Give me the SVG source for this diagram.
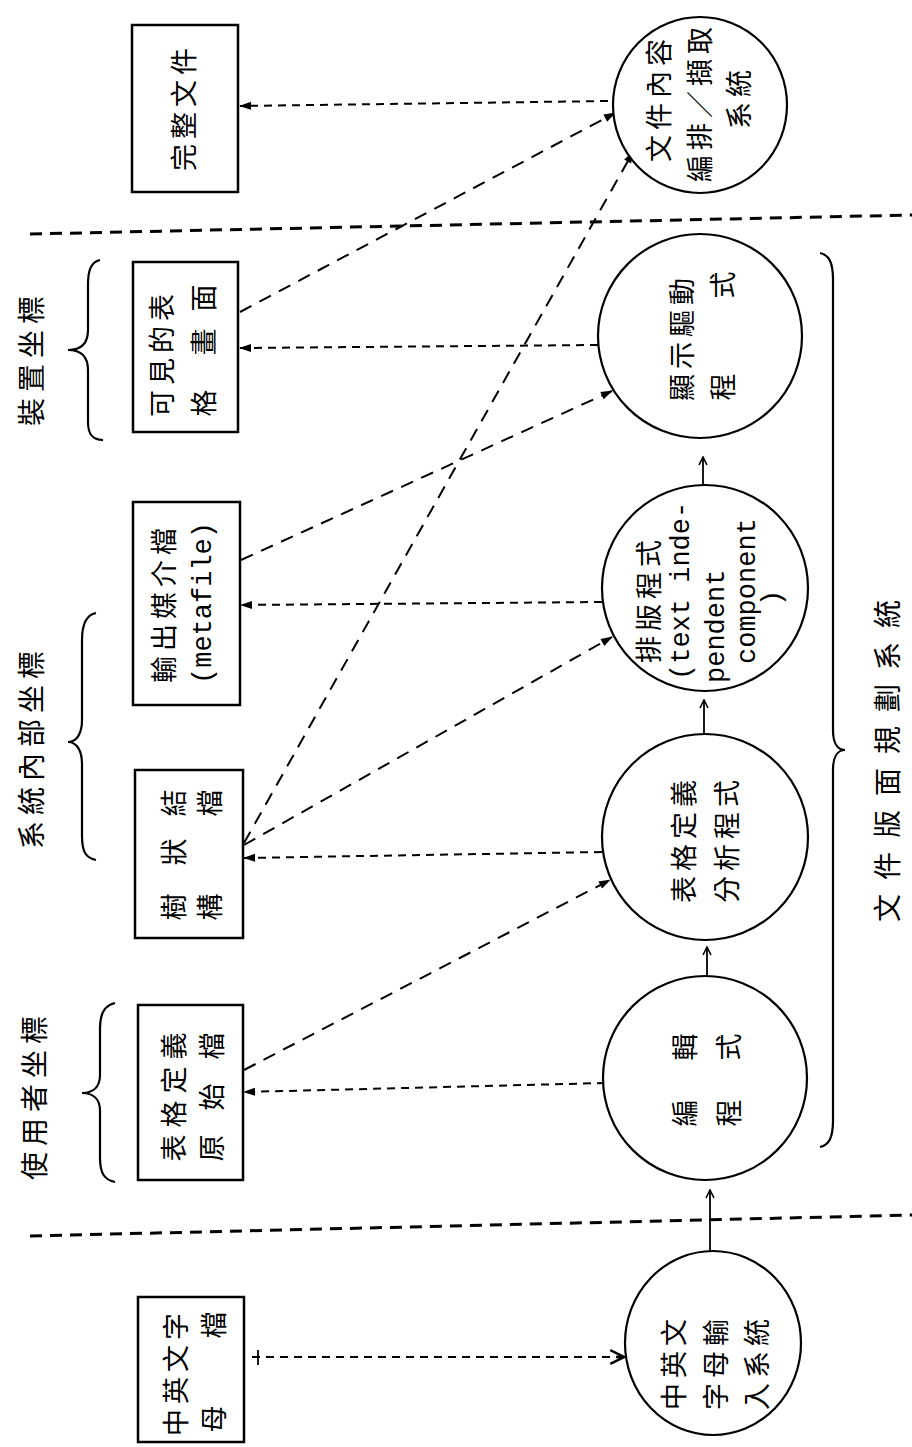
<svg xmlns="http://www.w3.org/2000/svg" width="912" height="1447" viewBox="0 0 912 1447">
<defs>
<style>
.box{fill:#fff;stroke:#000;stroke-width:2.5}
.node{fill:#fff;stroke:#000;stroke-width:2.2}
.cjk{font-family:"Noto Sans CJK TC","Noto Sans CJK SC",sans-serif;font-size:27px;fill:#000;text-anchor:middle;dominant-baseline:central;letter-spacing:5px}
.c1{letter-spacing:0}
.lbl{font-family:"Noto Sans CJK TC","Noto Sans CJK SC",sans-serif;font-size:28px;fill:#000;text-anchor:middle;dominant-baseline:central;letter-spacing:6px}
.mono{font-family:"Liberation Mono",monospace;font-size:27px;fill:#000;dominant-baseline:central}
.sep{fill:none;stroke:#000;stroke-width:3;stroke-dasharray:12 8}
.dash{fill:none;stroke:#000;stroke-width:2;stroke-dasharray:8 6}
.ddiag{fill:none;stroke:#000;stroke-width:2;stroke-dasharray:13 9}
.solid{fill:none;stroke:#000;stroke-width:1.8}
.brace{fill:none;stroke:#000;stroke-width:2.2}
</style>
<marker id="tri" viewBox="0 0 12 10" refX="11" refY="5" markerWidth="14" markerHeight="10" markerUnits="userSpaceOnUse" orient="auto">
<path d="M0,1 L12,5 L0,9 z" fill="#000" stroke="none"/>
</marker>
<marker id="open" viewBox="0 0 10 10" refX="9" refY="5" markerWidth="10" markerHeight="10" markerUnits="userSpaceOnUse" orient="auto">
<path d="M1,1 L9,5 L1,9" fill="none" stroke="#000" stroke-width="1.6"/>
</marker>
<marker id="fork" viewBox="0 0 14 14" refX="13" refY="7" markerWidth="16" markerHeight="16" markerUnits="userSpaceOnUse" orient="auto">
<path d="M1,1 L13,7 L1,13 M6,7 L13,7" fill="none" stroke="#000" stroke-width="2.2"/>
</marker>
</defs>
<rect x="0" y="0" width="912" height="1447" fill="#fff"/>

<g id="separators">
<path class="sep" d="M30,234 L912,215"/>
<path class="sep" d="M30,1236 L912,1215"/>
</g>

<g id="connectors">
<path class="dash" d="M608,101 L240,106" marker-end="url(#tri)"/>
<path class="dash" d="M598,345 L240,348" marker-end="url(#tri)"/>
<path class="dash" d="M602,602 L241,605" marker-end="url(#tri)"/>
<path class="dash" d="M602,852 L244,858" marker-end="url(#tri)"/>
<path class="dash" d="M605,1083 L244,1092" marker-end="url(#tri)"/>
<path class="ddiag" d="M240,312 L615,113" marker-end="url(#tri)"/>
<path class="ddiag" d="M241,560 L612,391" marker-end="url(#tri)"/>
<path class="ddiag" d="M244,845 L612,637" marker-end="url(#tri)"/>
<path class="ddiag" d="M244,843 L633,152" marker-end="url(#tri)"/>
<path class="ddiag" d="M244,1070 L610,880" marker-end="url(#tri)"/>
<path class="solid" d="M703,485 L703,457" marker-end="url(#open)"/>
<path class="solid" d="M704,733 L704,700" marker-end="url(#open)"/>
<path class="solid" d="M707,975 L707,947" marker-end="url(#open)"/>
<path class="solid" d="M710,1251 L710,1190" marker-end="url(#open)"/>
<path class="dash" d="M252,1357 L624,1357" marker-end="url(#fork)"/>
<path class="solid" d="M258,1350 L258,1365"/>
</g>

<g id="n-complete">
<rect class="box" x="132" y="25" width="106" height="167"/>
<text class="cjk" transform="translate(182,107) rotate(-90)">完整文件</text>
</g>

<g id="n-screen">
<rect class="box" x="133" y="262" width="105" height="170"/>
<text class="cjk" transform="translate(160,353) rotate(-90)">可見的表</text>
<text class="cjk c1" transform="translate(202,403) rotate(-90)">格</text>
<text class="cjk c1" transform="translate(202,342) rotate(-90)">畫</text>
<text class="cjk c1" transform="translate(202,298) rotate(-90)">面</text>
</g>

<g id="n-metafile">
<rect class="box" x="133" y="502" width="107" height="203"/>
<text class="cjk" transform="translate(162,603) rotate(-90)">輸出媒介檔</text>
<text class="mono" text-anchor="middle" transform="translate(204,603) rotate(-90)">(metafile)</text>
</g>

<g id="n-tree">
<rect class="box" x="135" y="770" width="108" height="168"/>
<text class="cjk c1" transform="translate(172,907) rotate(-90)">樹</text>
<text class="cjk c1" transform="translate(172,852) rotate(-90)">狀</text>
<text class="cjk c1" transform="translate(172,803) rotate(-90)">結</text>
<text class="cjk c1" transform="translate(208,907) rotate(-90)">構</text>
<text class="cjk c1" transform="translate(208,803) rotate(-90)">檔</text>
</g>

<g id="n-source">
<rect class="box" x="138" y="1005" width="105" height="175"/>
<text class="cjk c1" transform="translate(172,1148) rotate(-90)">表</text>
<text class="cjk c1" transform="translate(172,1114) rotate(-90)">格</text>
<text class="cjk c1" transform="translate(172,1080) rotate(-90)">定</text>
<text class="cjk c1" transform="translate(172,1046) rotate(-90)">義</text>
<text class="cjk c1" transform="translate(210,1148) rotate(-90)">原</text>
<text class="cjk c1" transform="translate(210,1097) rotate(-90)">始</text>
<text class="cjk c1" transform="translate(210,1046) rotate(-90)">檔</text>
</g>

<g id="n-charfile">
<rect class="box" x="138" y="1297" width="106" height="145"/>
<text class="cjk" transform="translate(174,1372) rotate(-90)">中英文字</text>
<text class="cjk c1" transform="translate(212,1419) rotate(-90)">母</text>
<text class="cjk c1" transform="translate(212,1325) rotate(-90)">檔</text>
</g>

<g id="n-docsys">
<ellipse class="node" cx="700" cy="105" rx="87" ry="88"/>
<text class="cjk" transform="translate(657,98) rotate(-90)">文件內容</text>
<text class="cjk" transform="translate(698,102) rotate(-90)">編排／擷取</text>
<text class="cjk" transform="translate(737,97) rotate(-90)">系統</text>
</g>

<g id="n-driver">
<ellipse class="node" cx="700" cy="336" rx="102" ry="102"/>
<text class="cjk" transform="translate(680,337) rotate(-90)">顯示驅動</text>
<text class="cjk c1" transform="translate(721,387) rotate(-90)">程</text>
<text class="cjk c1" transform="translate(721,285) rotate(-90)">式</text>
</g>

<g id="n-format">
<ellipse class="node" cx="705" cy="588" rx="103" ry="103"/>
<text class="cjk" transform="translate(647,599) rotate(-90)">排版程式</text>
<text class="mono" transform="translate(682,680) rotate(-90)">(text inde-</text>
<text class="mono" transform="translate(717,683) rotate(-90)">pendent</text>
<text class="mono" transform="translate(748,664) rotate(-90)">component</text>
<text class="mono" transform="translate(773,606) rotate(-90)">)</text>
</g>

<g id="n-parser">
<ellipse class="node" cx="705" cy="837" rx="103" ry="103"/>
<text class="cjk" transform="translate(682,839) rotate(-90)">表格定義</text>
<text class="cjk" transform="translate(725,839) rotate(-90)">分析程式</text>
</g>

<g id="n-editor">
<ellipse class="node" cx="705" cy="1078" rx="102" ry="102"/>
<text class="cjk c1" transform="translate(683,1113) rotate(-90)">編</text>
<text class="cjk c1" transform="translate(683,1047) rotate(-90)">輯</text>
<text class="cjk c1" transform="translate(727,1113) rotate(-90)">程</text>
<text class="cjk c1" transform="translate(727,1047) rotate(-90)">式</text>
</g>

<g id="n-input">
<ellipse class="node" cx="713" cy="1343" rx="88" ry="92"/>
<text class="cjk" transform="translate(672,1362) rotate(-90)">中英文</text>
<text class="cjk" transform="translate(714,1362) rotate(-90)">字母輸</text>
<text class="cjk" transform="translate(755,1362) rotate(-90)">入系統</text>
</g>

<g id="labels">
<path class="brace" d="M100,260 C91,262 88,270 88,285 L88,330 C88,343 81,350 68,350 C81,350 88,357 88,370 L88,422 C88,434 92,440 103,440"/>
<text class="lbl" transform="translate(30,358) rotate(-90)">裝置坐標</text>
<path class="brace" d="M96,613 C86,615 82,624 82,640 L82,720 C82,733 77,742 68,742 C77,742 82,751 82,764 L82,836 C82,852 86,858 96,860"/>
<text class="lbl" transform="translate(30,747) rotate(-90)">系統內部坐標</text>
<path class="brace" d="M115,1003 C105,1005 100,1013 100,1028 L100,1075 C100,1087 93,1093 82,1093 C93,1093 100,1099 100,1111 L100,1158 C100,1174 105,1180 115,1182"/>
<text class="lbl" transform="translate(33,1095) rotate(-90)">使用者坐標</text>
<path class="brace" d="M820,253 C829,255 833,262 833,280 L833,730 C833,742 837,750 845,750 C837,750 833,758 833,770 L833,1120 C833,1138 829,1145 820,1147"/>
<text class="lbl" transform="translate(886,754) rotate(-90)" style="letter-spacing:14px">文件版面規劃系統</text>
</g>
</svg>
